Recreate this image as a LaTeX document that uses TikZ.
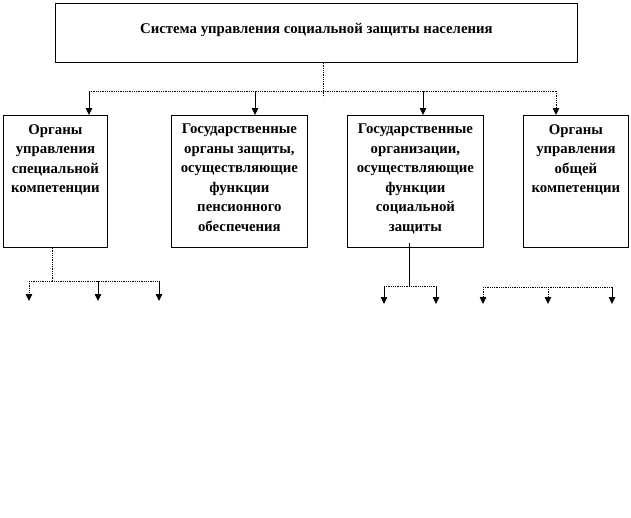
\documentclass[tikz,border=0pt]{standalone}
\usepackage{fontspec}
\setmainfont{Liberation Serif}
\usetikzlibrary{arrows.meta}
\begin{document}
\begin{tikzpicture}[x=1pt,y=-1pt,
  box/.style={draw=black,line width=0.8pt,anchor=north west,inner sep=0pt},
  txt/.style={anchor=north,align=center,inner sep=0pt,font=\bfseries\fontsize{14.8}{19.5}\selectfont},
  conn/.style={draw=black,line width=0.8pt},
  dotconn/.style={conn,densely dotted},
  arr/.style={-{Triangle[length=7pt,width=6.5pt]}}]
\useasboundingbox (0,0) rectangle (631,517);
% boxes
\node[box,minimum width=522pt,minimum height=59pt] (top) at (55,3) {};
\node[box,minimum width=104pt,minimum height=132pt] (b1) at (3,115) {};
\node[box,minimum width=136pt,minimum height=132pt] (b2) at (171,115) {};
\node[box,minimum width=136pt,minimum height=132pt] (b3) at (347,115) {};
\node[box,minimum width=105pt,minimum height=132pt] (b4) at (523,115) {};
% texts
\node[txt,anchor=center] (ttop) at ([yshift=3pt]top.center) {Система управления социальной защиты населения};
\node[txt] (t1) at ([yshift=-9pt]b1.north) {Органы\\управления\\специальной\\компетенции};
\node[txt] (t2) at ([yshift=-9pt]b2.north) {Государственные\\органы защиты,\\осуществляющие\\функции\\пенсионного\\обеспечения};
\node[txt] (t3) at ([yshift=-9pt]b3.north) {Государственные\\организации,\\осуществляющие\\функции\\социальной\\защиты};
\node[txt] (t4) at ([yshift=-9pt]b4.north) {Органы\\управления\\общей\\компетенции};
% top bus
\coordinate (j0) at (323,97);
\coordinate (h1) at (89,91);
\coordinate (h2) at (255,91);
\coordinate (h3) at (423,91);
\coordinate (h4) at (556,91);
\draw[dotconn] (top.south -| j0) -- (j0);
\draw[dotconn] (h1) -- (h4);
\draw[conn,arr] (h1) -- (h1 |- b1.north);
\draw[conn,arr] (h2) -- (h2 |- b2.north);
\draw[conn,arr] (h3) -- (h3 |- b3.north);
\draw[dotconn,arr] (h4) -- (h4 |- b4.north);
% group under box 1
\coordinate (s1) at (52,281);
\coordinate (g1a) at (29,281);
\coordinate (g1b) at (98,281);
\coordinate (g1c) at (159,281);
\coordinate (e1a) at (29,301);
\coordinate (e1b) at (98,301);
\coordinate (e1c) at (159,301);
\draw[dotconn] (b1.south -| s1) -- (s1);
\draw[dotconn] (g1a) -- (g1c);
\draw[dotconn,arr] (g1a) -- (e1a);
\draw[conn,arr] (g1b) -- (e1b);
\draw[conn,arr] (g1c) -- (e1c);
% group under box 3
\coordinate (s3) at (409,286);
\coordinate (g3a) at (384,286);
\coordinate (g3b) at (436,286);
\coordinate (e3a) at (384,304);
\coordinate (e3b) at (436,304);
\draw[conn] ([yshift=5pt]b3.south -| s3) -- (s3);
\draw[dotconn] (g3a) -- (g3b);
\draw[conn,arr] (g3a) -- (e3a);
\draw[conn,arr] (g3b) -- (e3b);
% group right
\coordinate (g4a) at (483,287);
\coordinate (g4b) at (548,287);
\coordinate (g4c) at (612,287);
\coordinate (e4a) at (483,304);
\coordinate (e4b) at (548,304);
\coordinate (e4c) at (612,304);
\draw[dotconn] (g4a) -- (g4c);
\draw[dotconn,arr] (g4a) -- (e4a);
\draw[dotconn,arr] (g4b) -- (e4b);
\draw[conn,arr] (g4c) -- (e4c);
\end{tikzpicture}
\end{document}
